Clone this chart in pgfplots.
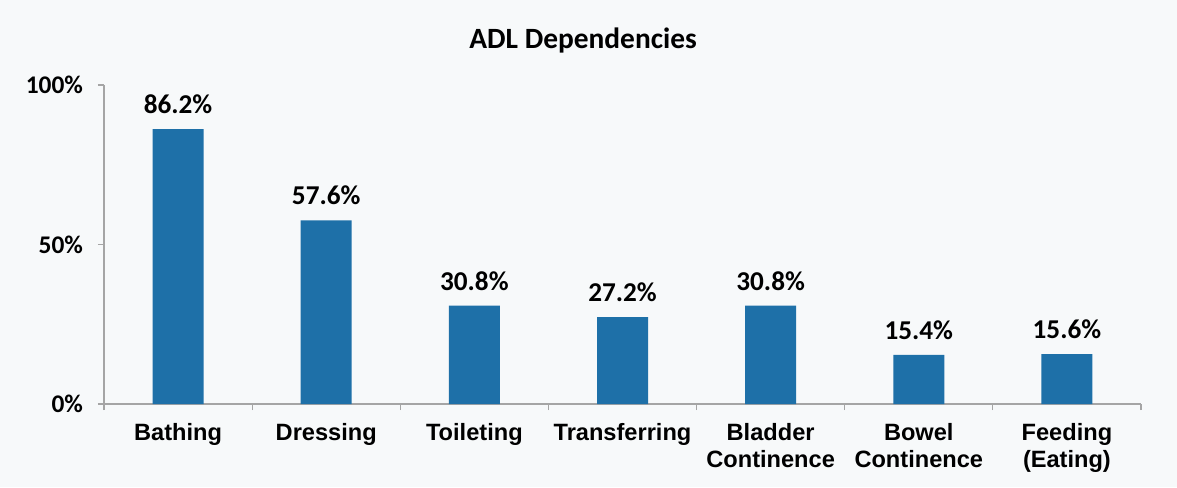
\documentclass[border=0pt]{standalone}
\usepackage{pgfplots}
\pgfplotsset{compat=1.18}
\usepackage{fontspec}
\setmainfont{Carlito}
\newfontfamily\arialfont{Liberation Sans}
\definecolor{barblue}{RGB}{30,112,168}
\definecolor{bgtint}{RGB}{247,249,250}
\definecolor{axisgray}{RGB}{165,165,165}

\pgfplotstableread{
idx value
0 86.2
1 57.6
2 30.8
3 27.2
4 30.8
5 15.4
6 15.6
}\adldata

\begin{document}
\begin{tikzpicture}
% page frame: 1177x487 px at 0.5pt per px, axis origin at px (104,404)
\fill[bgtint] (-52pt,-41.5pt) rectangle (536.5pt,202pt);
\useasboundingbox (-52pt,-41.5pt) rectangle (536.5pt,202pt);
\begin{axis}[
  scale only axis,
  width=518.5pt, height=159.5pt,
  xmin=-0.5, xmax=6.5,
  ymin=0, ymax=100,
  axis lines*=left,
  axis line style={draw=axisgray, line width=0.6pt, -},
  tick align=outside,
  major tick length=3pt,
  minor tick length=3pt,
  xtick={0,...,6},
  xticklabels={Bathing, Dressing, Toileting, Transferring, Bladder\\Continence, Bowel\\Continence, Feeding\\(Eating)},
  minor xtick={-0.5,0.5,...,6.5},
  major x tick style={draw=none},
  minor x tick style={draw=axisgray, line width=0.6pt},
  ytick={0,50,100},
  yticklabels={\textbf{0\%},\textbf{50\%},\textbf{100\%}},
  ytick style={draw=axisgray, line width=0.6pt},
  xticklabel style={font=\arialfont\bfseries\fontsize{11.8}{13.5}\selectfont, align=center, anchor=north, yshift=-3pt},
  yticklabel style={font=\bfseries\fontsize{12.7}{14}\selectfont, xshift=-4pt},
  /pgf/number format/assume math mode=true,
  title={ADL Dependencies},
  title style={font=\bfseries\fontsize{14.7}{17}\selectfont, at={(0.462,1)}, anchor=base, yshift=12pt},
  nodes near coords={\pgfmathprintnumber[fixed,fixed zerofill,precision=1]{\pgfplotspointmeta}\%},
  nodes near coords style={font=\bfseries\fontsize{13.6}{16}\selectfont, text=black, yshift=4pt},
]
\addplot[ybar, bar width=25.5pt, fill=barblue, draw=none] table[x=idx, y=value] {\adldata};
\end{axis}
\end{tikzpicture}
\end{document}
